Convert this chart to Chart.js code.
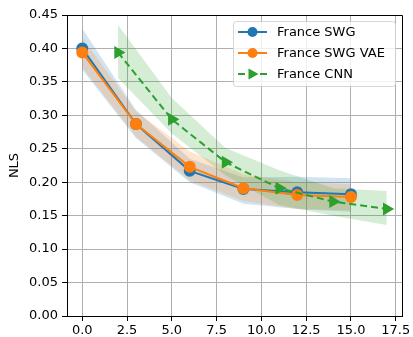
<!DOCTYPE html>
<html>
<head>
<meta charset="utf-8">
<script src="https://cdn.jsdelivr.net/npm/chart.js@4/dist/chart.umd.min.js"></script>
<style>
  html, body { margin: 0; padding: 0; background: #fff; }
  #wrap { width: 413px; height: 337px; }
</style>
</head>
<body>
<div id="wrap"><canvas id="nls-chart" width="413" height="337"></canvas></div>
<script>
// ---- data ----
var xSwg = [0, 3, 6, 9, 12, 15];
var swgMean = [0.400, 0.287, 0.217, 0.190, 0.185, 0.182];
var swgHigh = [0.430, 0.308, 0.235, 0.207, 0.208, 0.206];
var swgLow  = [0.368, 0.266, 0.200, 0.168, 0.160, 0.156];

var vaeMean = [0.394, 0.287, 0.223, 0.191, 0.181, 0.178];
var vaeHigh = [0.416, 0.306, 0.246, 0.212, 0.200, 0.197];
var vaeLow  = [0.372, 0.268, 0.203, 0.172, 0.160, 0.158];

var xCnn = [2, 5, 8, 11, 14, 17];
var cnnMean = [0.394, 0.294, 0.230, 0.191, 0.171, 0.160];
var cnnHigh = [0.435, 0.326, 0.251, 0.218, 0.191, 0.187];
var cnnLow  = [0.356, 0.273, 0.210, 0.166, 0.150, 0.136];

var xTicks = [0, 2.5, 5, 7.5, 10, 12.5, 15, 17.5];
var yTicks = [0, 0.05, 0.10, 0.15, 0.20, 0.25, 0.30, 0.35, 0.40, 0.45];

var seriesNames = ['France SWG', 'France SWG VAE', 'France CNN'];
var lineColors = ['#1f77b4', '#ff7f0e', '#2ca02c'];
var bandColors = ['rgba(31,119,180,0.2)', 'rgba(255,127,14,0.2)', 'rgba(44,160,44,0.2)'];

function pts(xs, ys) {
    var out = [];
    for (var i = 0; i < xs.length; i++) out.push({x: xs[i], y: ys[i]});
    return out;
}

// upper edge fills down to the lower edge (next dataset)
function band(xs, hi, lo, color, ord) {
    return [
        {label: 'band', data: pts(xs, hi), fill: '+1', backgroundColor: color,
         borderWidth: 0, pointRadius: 0, order: ord},
        {label: 'band', data: pts(xs, lo), fill: false, backgroundColor: color,
         borderWidth: 0, pointRadius: 0, order: ord}
    ];
}

var datasets = [].concat(
    band(xSwg, swgHigh, swgLow, bandColors[0], 12),
    band(xSwg, vaeHigh, vaeLow, bandColors[1], 11),
    band(xCnn, cnnHigh, cnnLow, bandColors[2], 10),
    [
        {label: seriesNames[0], data: pts(xSwg, swgMean), borderColor: lineColors[0],
         backgroundColor: lineColors[0], borderWidth: 2, pointRadius: 5, pointStyle: 'circle',
         fill: false, order: 3},
        {label: seriesNames[1], data: pts(xSwg, vaeMean), borderColor: lineColors[1],
         backgroundColor: lineColors[1], borderWidth: 2, pointRadius: 5, pointStyle: 'circle',
         fill: false, order: 2},
        {label: seriesNames[2], data: pts(xCnn, cnnMean), borderColor: lineColors[2],
         backgroundColor: lineColors[2], borderWidth: 2, borderDash: [7, 4],
         pointRadius: 5.5, pointStyle: 'triangle', rotation: 90, fill: false, order: 1}
    ]
);

// matplotlib-like frame + legend box in the upper right
var framePlugin = {
    id: 'frame',
    afterDatasetsDraw: function (chart) {
        var ctx = chart.ctx, a = chart.chartArea;
        ctx.save();
        ctx.strokeStyle = '#000';
        ctx.lineWidth = 1;
        ctx.beginPath();
        ctx.moveTo(a.left, a.top + 0.5);
        ctx.lineTo(a.right + 0.5, a.top + 0.5);
        ctx.lineTo(a.right + 0.5, a.bottom);
        ctx.stroke();

        // legend
        var bx = a.right - 169, by = a.top + 6, bw = 162, bh = 65;
        ctx.globalAlpha = 0.8;
        ctx.fillStyle = '#fff';
        ctx.strokeStyle = '#cccccc';
        ctx.beginPath();
        ctx.roundRect(bx + 0.5, by + 0.5, bw, bh, 3);
        ctx.fill();
        ctx.stroke();
        ctx.globalAlpha = 1;
        ctx.font = '13px "DejaVu Sans"';
        ctx.textBaseline = 'middle';
        for (var i = 0; i < seriesNames.length; i++) {
            var ry = by + 11 + i * 21;
            var x0 = bx + 5, x1 = bx + 34, xm = (x0 + x1) / 2;
            ctx.strokeStyle = lineColors[i];
            ctx.fillStyle = lineColors[i];
            ctx.lineWidth = 2;
            ctx.setLineDash(i === 2 ? [7, 4] : []);
            ctx.beginPath();
            ctx.moveTo(x0, ry);
            ctx.lineTo(x1, ry);
            ctx.stroke();
            ctx.setLineDash([]);
            ctx.beginPath();
            if (i === 2) {
                ctx.moveTo(xm + 6, ry);
                ctx.lineTo(xm - 4, ry - 5.5);
                ctx.lineTo(xm - 4, ry + 5.5);
                ctx.closePath();
            } else {
                ctx.arc(xm, ry, 5, 0, Math.PI * 2);
            }
            ctx.fill();
            ctx.fillStyle = '#000';
            ctx.fillText(seriesNames[i], bx + 44, ry + 1);
        }
        ctx.restore();
    }
};

var ctx = document.getElementById('nls-chart').getContext('2d');
var myChart = new Chart(ctx, {
    type: 'line',
    data: {datasets: datasets},
    plugins: [framePlugin],
    options: {
        responsive: false,
        animation: false,
        devicePixelRatio: 1,
        layout: {padding: {left: 0, right: 11, top: 15, bottom: 0}},
        elements: {line: {tension: 0}},
        plugins: {
            legend: {display: false},
            tooltip: {enabled: false},
            filler: {propagate: false}
        },
        scales: {
            x: {
                type: 'linear',
                min: -0.85,
                max: 17.85,
                afterBuildTicks: function (scale) {
                    scale.ticks = xTicks.map(function (v) { return {value: v}; });
                },
                afterFit: function (scale) { scale.height = 21; },
                grid: {color: '#b0b0b0', lineWidth: 1, tickColor: '#000', tickLength: 5},
                border: {color: '#000', width: 1},
                ticks: {
                    color: '#000',
                    padding: 2,
                    maxRotation: 0,
                    autoSkip: false,
                    font: {family: 'DejaVu Sans', size: 13},
                    callback: function (v) { return v.toFixed(1); }
                }
            },
            y: {
                min: 0,
                max: 0.45,
                afterBuildTicks: function (scale) {
                    scale.ticks = yTicks.map(function (v) { return {value: v}; });
                },
                afterFit: function (scale) { scale.width = 67; },
                grid: {color: '#b0b0b0', lineWidth: 1, tickColor: '#000', tickLength: 5},
                border: {color: '#000', width: 1},
                title: {
                    display: true,
                    text: 'NLS',
                    color: '#000',
                    padding: {top: 7, bottom: 0},
                    font: {family: 'DejaVu Sans', size: 13}
                },
                ticks: {
                    color: '#000',
                    padding: 4,
                    autoSkip: false,
                    font: {family: 'DejaVu Sans', size: 13},
                    callback: function (v) { return v.toFixed(2); }
                }
            }
        }
    }
});
</script>
</body>
</html>
